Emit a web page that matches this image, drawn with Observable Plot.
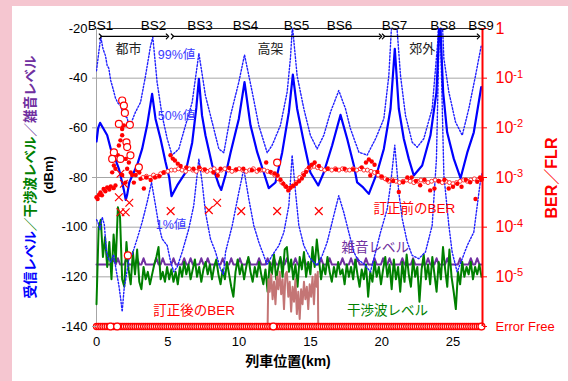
<!DOCTYPE html>
<html><head><meta charset="utf-8">
<script src="https://cdn.jsdelivr.net/npm/d3@7"></script>
<script src="https://cdn.jsdelivr.net/npm/@observablehq/plot@0.6"></script>
<style>
html,body{margin:0;padding:0;}
body{width:572px;height:381px;background:#f5c6d0;position:relative;overflow:hidden;}
#panel{position:absolute;left:12px;top:6px;width:556px;height:375px;background:#fff;}
#chart{position:absolute;left:0;top:0;width:572px;height:381px;}
</style></head><body><div id="panel"></div><div id="chart"></div>
<script>
// ---------------- DATA ----------------
const xMaxKm = 27.07;
const sampleStepKm = 0.15;               // measurement grid of the level traces
const xTicks = [0, 5, 10, 15, 20, 25];
const dbTicks = [-20, -40, -60, -80, -100, -120, -140];
const gridDb = [-40, -60, -80, -100, -120];
const berTicks = [1, 1e-1, 1e-2, 1e-3, 1e-4, 1e-5];
const berTickLabels = ["1", "10^-1", "10^-2", "10^-3", "10^-4", "10^-5"];
const errorFreeLabel = "Error Free";

const bsNames = ["BS1","BS2","BS3","BS4","BS5","BS6","BS7","BS8","BS9"];
const bsKm = [0.28, 4.0, 7.26, 10.45, 14.03, 17.04, 20.9, 24.3, 26.96];

const regionNames = ["都市", "高架", "郊外"];
const regionFromKm = [0.28, 5.33, 20.13];
const regionToKm = [4.98, 19.92, 26.79];
const regionLabelKm = [2.24, 12.2, 22.84];

// received level, 50% value (km, dBm)
const rx50 = [[0,-65.5],[0.12,-60],[0.25,-58],[0.5,-60.5],[0.75,-63],[1.0,-68.5],[1.22,-71],[1.57,-76.5],[1.8,-82],[1.92,-85],[2.05,-89],[2.15,-87],[2.3,-82],[2.45,-80],[2.85,-75],[3.2,-68.5],[3.55,-59],[3.9,-46.3],[4.14,-56.4],[4.49,-64.4],[4.84,-73.8],[5.1,-80],[5.26,-87.5],[5.66,-83.2],[6.24,-78],[6.71,-66],[7.0,-52],[7.18,-40.3],[7.4,-55],[7.64,-63],[8.11,-75],[8.58,-83],[8.75,-85],[9.05,-79],[9.4,-70],[9.98,-56.4],[10.38,-41.6],[10.8,-59],[11.27,-69.8],[11.73,-78],[12.08,-84.3],[12.55,-82],[13.02,-70],[13.49,-53.7],[13.77,-38.6],[14.07,-52.3],[14.54,-65.8],[15.0,-78],[15.55,-83.2],[15.94,-78],[16.53,-67],[17.11,-54.8],[17.58,-64.4],[18.05,-75.2],[18.28,-82],[18.7,-84],[19.1,-86.6],[19.68,-78],[20.15,-68.5],[20.62,-52.3],[20.92,-28.2],[21.2,-52.3],[21.55,-64.4],[21.9,-72.5],[22.25,-79.2],[22.84,-75.2],[23.42,-63],[23.84,-45.6],[24.0,-25],[24.08,-10],[24.16,-25],[24.31,-45.6],[24.59,-61.8],[25.06,-72.5],[25.53,-80.3],[26.0,-70],[26.46,-61.8],[26.98,-43.6]];
// received level, 99% value
const rx99 = [[0,-37],[0.15,-30],[0.3,-23.5],[0.45,-28],[0.63,-31],[0.75,-35],[0.86,-36],[1.0,-41],[1.1,-43],[1.33,-48],[1.5,-50],[1.68,-51],[1.9,-55],[2.15,-56],[2.3,-60],[2.5,-57],[2.73,-53.7],[3.09,-49.7],[3.44,-39],[3.79,-27],[3.95,-23.5],[4.25,-41.6],[4.6,-55],[4.96,-64.4],[5.3,-71],[5.77,-68.5],[6.24,-59],[6.71,-49.7],[7.18,-30],[7.64,-47],[8.11,-57.7],[8.58,-68.5],[8.93,-70],[9.4,-55],[9.98,-41.6],[10.38,-30.6],[10.92,-45.6],[11.38,-59],[11.97,-70],[12.32,-67],[12.9,-59],[13.37,-45.6],[13.6,-32],[13.74,-19],[14.07,-39],[14.54,-52.3],[15.0,-63],[15.47,-68.5],[15.94,-63],[16.41,-53.7],[16.99,-45],[17.46,-52.3],[17.81,-60.4],[18.4,-69.8],[18.98,-71],[19.57,-64.4],[20.15,-56.4],[20.5,-39],[20.74,-14],[21.0,-14],[21.32,-39],[21.67,-55],[22.14,-65.8],[22.49,-67.8],[22.95,-64.4],[23.54,-52.3],[23.93,-25.5],[24.05,-10],[24.2,-10],[24.36,-32],[24.71,-45.6],[25.18,-57.7],[25.65,-63],[26.11,-52.3],[26.58,-39],[26.98,-27]];
// received level, 1% value
const rx1 = [[0,-97],[0.1,-98],[0.25,-101],[0.4,-96],[0.55,-99],[0.7,-110],[0.86,-113],[1.0,-114],[1.2,-111],[1.4,-118],[1.57,-123.5],[1.7,-129],[1.8,-134],[1.95,-124],[2.05,-121],[2.27,-113],[2.5,-111],[2.85,-104.7],[3.2,-98],[3.55,-90],[3.86,-82],[4.14,-91.3],[4.37,-99.3],[4.6,-104.7],[4.96,-107.4],[5.2,-114],[5.42,-118],[5.66,-116],[6.01,-110],[6.47,-100.7],[6.82,-91.3],[7.18,-72.5],[7.41,-82],[7.64,-94],[7.99,-104.7],[8.35,-110],[8.7,-117],[8.9,-119],[9.05,-110],[9.52,-99.3],[9.98,-86],[10.33,-76.5],[10.68,-88.6],[11.03,-99.3],[11.38,-106],[11.73,-111.4],[11.95,-115],[12.32,-111.4],[12.79,-107.4],[13.14,-102],[13.49,-91.3],[13.72,-71],[13.96,-86],[14.19,-99.3],[14.54,-107.4],[15.0,-112.7],[15.47,-115.4],[15.83,-111.4],[16.18,-106],[16.64,-95.3],[16.99,-87.3],[17.34,-94],[17.69,-102],[18.05,-110],[18.28,-112.7],[18.86,-115.4],[19.21,-118],[19.57,-110],[19.92,-102],[20.39,-92.6],[20.62,-83],[20.92,-67],[21.2,-86],[21.44,-96.6],[21.79,-106],[22.14,-111.4],[22.6,-112.7],[23.07,-110],[23.54,-99.3],[23.84,-72.5],[24.0,-30],[24.08,-15],[24.2,-40],[24.36,-79],[24.71,-99.3],[24.94,-110],[25.29,-118],[25.65,-112.7],[26.0,-107.4],[26.46,-102],[26.91,-82],[27.05,-78]];

// interference level (dBm) on the sampling grid
const interferenceDb = [
 -131,-100,-97,-112,-104,-116,-106,-121,-103,-114,
 -92,-96,-121,-124,-106,-117,-123,-110,-119,-109,
 -122,-125,-116,-121,-118,-123,-119,-115,-112,-108,
 -121,-118,-122,-116,-121,-117,-122,-118,-123,-116,
 -120,-114,-119,-115,-121,-117,-113,-120,-116,-122,
 -117,-114,-119,-115,-121,-116,-113,-119,-123,-117,
 -121,-114,-119,-124,-128,-118,-113,-119,-115,-121,
 -116,-112,-118,-122,-116,-120,-114,-119,-123,-117,
 -126,-114,-119,-111,-121,-116,-112,-120,-109,-108,
 -118,-113,-121,-115,-124,-112,-117,-110,-120,-114,
 -119,-108,-116,-105,-113,-121,-115,-119,-112,-118,
 -122,-116,-120,-114,-119,-117,-123,-115,-120,-116,
 -121,-113,-119,-124,-117,-121,-115,-128,-118,-122,
 -114,-120,-116,-123,-117,-112,-120,-115,-125,-113,
 -121,-116,-126,-114,-122,-111,-119,-124,-113,-120,
 -116,-130,-117,-111,-121,-115,-123,-112,-119,-126,
 -114,-121,-108,-117,-124,-109,-120,-126,-133,-118,
 -123,-114,-120,-116,-119,-114,-121,-116,-119,-115,
 -120];

// noise level (dBm) on the sampling grid
const noiseDb = [
 -115,-115,-115,-115,-115,-115,-115,-115,-112.5,-115,
 -112.5,-115,-115,-115,-112.5,-115,-115,-115,-115,-112.5,
 -115,-115,-112.5,-115,-115,-115,-115,-115,-112.5,-115,
 -115,-112.5,-115,-115,-115,-115,-112.5,-115,-115,-115,
 -115,-112.5,-115,-115,-112.5,-115,-115,-115,-115,-112.5,
 -115,-115,-112.5,-115,-115,-115,-115,-115,-115,-112.5,
 -115,-115,-115,-112.5,-115,-115,-115,-112.5,-115,-115,
 -115,-112.5,-115,-115,-115,-115,-112.5,-115,-115,-115,
 -112.5,-115,-115,-112.5,-115,-115,-112.5,-115,-115,-112.5,
 -115,-115,-115,-112.5,-115,-115,-115,-112.5,-115,-115,
 -115,-112.5,-115,-115,-115,-112.5,-115,-115,-115,-112.5,
 -115,-115,-115,-115,-115,-112.5,-115,-115,-115,-112.5,
 -115,-115,-112.5,-115,-115,-115,-112.5,-115,-115,-115,
 -112.5,-115,-115,-115,-112.5,-115,-115,-112.5,-115,-115,
 -115,-115,-115,-112.5,-115,-115,-115,-115,-112.5,-115,
 -115,-115,-115,-115,-115,-112.5,-115,-115,-115,-112.5,
 -115,-115,-115,-115,-112.5,-115,-115,-115,-115,-115,
 -112.5,-115,-115,-115,-115,-112.5,-115,-115,-112.5,-115,
 -115];

// post-FEC trace between 12 and 15.6 km (dBm-equivalent)
const postFecTrace = [[12.0,-140],[12.05,-121],[12.15,-126],[12.25,-119],[12.35,-129],[12.45,-122],[12.55,-131],[12.65,-120],[12.75,-125],[12.85,-118],[12.95,-127],[13.05,-121],[13.15,-133],[13.25,-119],[13.35,-118],[13.45,-128],[13.55,-122],[13.65,-134],[13.75,-124],[13.85,-130],[13.95,-121],[14.05,-135],[14.15,-126],[14.25,-137],[14.35,-125],[14.45,-131],[14.55,-122],[14.65,-129],[14.75,-124],[14.85,-133],[14.95,-123],[15.05,-128],[15.15,-120],[15.25,-131],[15.35,-119],[15.45,-124],[15.52,-118],[15.55,-140]];

// pre-FEC BER, dense small markers (km, BER)
const berBand = [[3.25,1.0e-3],[3.5,1.06e-3],[3.75,1.0e-3],[4.0,1.12e-3],[4.25,1.06e-3],[4.5,1.19e-3],[4.75,1.26e-3],[5.0,1.33e-3],[5.25,1.41e-3],[5.5,1.41e-3],[5.75,1.5e-3],[6.0,1.41e-3],[6.25,1.33e-3],[6.5,1.5e-3],[6.75,1.41e-3],[7.0,1.33e-3],[7.25,1.5e-3],[7.5,1.41e-3],[7.75,1.33e-3],[8.0,1.41e-3],[8.25,1.5e-3],[8.5,1.33e-3],[8.75,1.41e-3],[9.0,1.5e-3],[9.25,1.41e-3],[9.5,1.33e-3],[9.75,1.41e-3],[10.0,1.5e-3],[10.25,1.41e-3],[10.5,1.33e-3],[10.75,1.41e-3],[11.0,1.5e-3],[11.25,1.33e-3],[11.5,1.41e-3],[11.75,1.41e-3],[12.0,1.33e-3],[12.25,1.26e-3],[12.5,1.12e-3],[12.75,9.4e-4],[13.0,7.9e-4],[13.25,6.7e-4],[13.5,6.0e-4],[13.75,6.7e-4],[14.0,7.9e-4],[14.25,1.0e-3],[14.5,1.19e-3],[14.75,1.41e-3],[15.0,1.58e-3],[15.25,1.68e-3],[15.5,1.58e-3],[15.75,1.5e-3],[16.0,1.41e-3],[16.25,1.5e-3],[16.5,1.41e-3],[16.75,1.5e-3],[17.0,1.41e-3],[17.25,1.5e-3],[17.5,1.41e-3],[17.75,1.41e-3],[18.0,1.5e-3],[18.25,1.41e-3],[18.5,1.5e-3],[18.75,1.41e-3],[19.0,1.41e-3],[19.25,1.33e-3],[19.5,1.26e-3],[19.75,1.12e-3],[20.0,1.0e-3],[20.25,9.4e-4],[20.5,8.4e-4],[20.75,8.9e-4],[21.0,8.4e-4],[21.25,7.9e-4],[21.5,8.4e-4],[21.75,8.9e-4],[22.0,8.4e-4],[22.25,7.9e-4],[22.5,8.4e-4],[22.75,8.9e-4],[23.0,8.4e-4],[23.25,7.9e-4],[23.5,8.4e-4],[23.75,8.9e-4],[24.0,8.4e-4],[24.25,7.9e-4],[24.5,8.4e-4],[24.75,7.9e-4],[25.0,7.5e-4],[25.25,7.9e-4],[25.5,8.4e-4],[25.75,8.9e-4],[26.0,8.4e-4],[26.25,8.9e-4],[26.5,9.4e-4],[26.75,8.9e-4],[27.0,9.4e-4]];
// pre-FEC BER, filled markers
const berFilled = [[0.0,4.0e-4],[0.08,3.7e-4],[0.18,4.5e-4],[0.28,5.0e-4],[0.38,4.4e-4],[0.5,5.9e-4],[0.62,5.3e-4],[0.75,6.3e-4],[0.9,5.7e-4],[1.0,6.6e-4],[1.2,6.1e-4],[1.33,6.9e-4],[1.1,1.27e-3],[1.22,1.74e-3],[1.33,1.5e-3],[1.5,2.8e-3],[1.57,4.4e-3],[1.68,5.6e-3],[1.8,9.5e-3],[1.92,1.12e-2],[1.8,7.1e-3],[2.0,5.0e-3],[2.15,4.2e-3],[2.05,2.37e-3],[2.27,2.0e-3],[2.15,1.5e-3],[1.8,1.12e-3],[2.03,7.9e-4],[2.4,1.26e-3],[2.5,1.12e-3],[2.62,7.9e-4],[2.75,1.12e-3],[2.85,1.4e-3],[3.0,1.26e-3],[3.09,9.4e-4],[3.32,6.0e-4],[3.5,1.0e-3],[3.8,8.9e-4],[4.1,1.0e-3],[4.4,1.06e-3],[4.7,1.26e-3],[5.19,2.8e-3],[5.35,2.4e-3],[5.5,2.2e-3],[5.7,1.9e-3],[5.9,1.7e-3],[6.3,1.6e-3],[6.8,1.5e-3],[7.2,1.6e-3],[7.6,1.45e-3],[8.2,1.26e-3],[8.5,1.1e-3],[8.7,1.5e-3],[9.3,1.55e-3],[9.8,1.45e-3],[10.3,1.5e-3],[10.9,1.4e-3],[11.4,1.45e-3],[11.9,2.0e-3],[12.2,1.3e-3],[12.5,1.2e-3],[12.7,1.1e-3],[12.9,9.0e-4],[13.1,7.5e-4],[13.3,6.5e-4],[13.45,5.5e-4],[13.6,6.2e-4],[13.8,6.8e-4],[14.0,7.5e-4],[14.2,8.4e-4],[14.4,9.5e-4],[14.55,1.12e-3],[14.7,1.3e-3],[14.9,1.6e-3],[15.1,1.8e-3],[15.3,2.0e-3],[15.6,1.7e-3],[16.2,1.5e-3],[16.8,1.45e-3],[17.4,1.5e-3],[18.0,1.45e-3],[18.6,1.6e-3],[18.9,2.0e-3],[19.1,2.3e-3],[19.3,2.1e-3],[19.5,1.8e-3],[19.2,1.1e-3],[19.7,1.3e-3],[20.0,1.05e-3],[20.4,9.0e-4],[20.8,8.5e-4],[21.2,5.1e-4],[21.5,8.0e-4],[21.8,1.0e-3],[22.1,1.0e-3],[22.4,8.5e-4],[22.7,7.0e-4],[23.0,9.0e-4],[23.4,5.5e-4],[23.7,6.0e-4],[24.0,8.5e-4],[24.4,9.0e-4],[24.7,6.0e-4],[25.0,6.5e-4],[25.3,7.5e-4],[25.6,6.5e-4],[25.9,9.0e-4],[26.2,8.0e-4],[26.58,3.7e-4],[26.7,8.2e-4],[26.9,1.0e-3],[27.0,9.0e-4]];
// pre-FEC BER, open markers
const berOpen = [[1.8,3.55e-2],[1.92,2.8e-2],[1.99,2.0e-2],[1.57,1.2e-2],[2.34,1.15e-2],[2.1,5.1e-3],[2.15,4.1e-3],[1.22,3.2e-3],[1.1,2.37e-3],[1.68,2.37e-3],[2.38,2.8e-3],[2.97,1.6e-3],[2.2,2.7e-5],[12.67,2.0e-3]];
// cross markers
const berCross = [[1.68,1.19e-3],[1.92,7.5e-4],[1.57,4.0e-4],[2.3,3.1e-4],[1.68,2.0e-4],[2.05,2.0e-4],[5.2,2.1e-4],[7.88,2.2e-4],[8.46,3.1e-4],[10.15,2.1e-4],[12.67,2.1e-4],[15.59,2.1e-4]];
// positions where the open markers sit at "Error Free"
const errorFreeOpenKm = [0.98, 1.45, 12.4, 27.0];

const leftTitleParts = ["受信レベル", "／干渉波レベル", "／雑音レベル"];
const leftTitleUnit = "(dBm)";
const rightTitle = "BER／FLR";
const xTitle = "列車位置(km)";

const blueNotes = [{t:"99%値", km:4.3, db:-30.5},{t:"50%値", km:4.3, db:-55.4},{t:"1%値", km:4.15, db:-99.3}];
const seriesNotes = [
  {t:"訂正前のBER", km:22.3, db:-92.4, c:"red"},
  {t:"雑音レベル", km:19.55, db:-108.2, c:"purple"},
  {t:"訂正後のBER", km:6.84, db:-133.6, c:"red"},
  {t:"干渉波レベル", km:20.4, db:-133.6, c:"green"}
];

// ---------------- BUILD ----------------
const ERROR_FREE_DB = -140;
const berToDb = b => -20 + 20 * Math.log10(b);
const pairs = arr => arr.map(([x, y]) => ({x, y}));
const berPairs = arr => arr.map(([x, b]) => ({x, y: berToDb(b)}));
const gridRows = vals => vals.map((y, i) => ({x: i * sampleStepKm, y}));
const sampleKm = interferenceDb.map((_, i) => i * sampleStepKm);

const rightTickDb = berTicks.map(berToDb).concat([ERROR_FREE_DB]);
const rightLabelFor = d => {
  if (Math.abs(d - ERROR_FREE_DB) < 1e-6) return errorFreeLabel;
  const i = rightTickDb.findIndex(v => Math.abs(v - d) < 1e-6);
  return berTickLabels[i];
};

const C = {blue:"#0000ff", dot:"#2020ff", purple:"#7030a0", green:"#008000", red:"#ff0000", brown:"#c47575", grid:"#a6a6a6", note:"#3a3aff"};
const noteColor = {red:C.red, purple:C.purple, green:C.green};
const FONT = "'Liberation Sans','Noto Sans CJK JP',Arial,sans-serif";

const svg = Plot.plot({
  width: 572, height: 381,
  marginLeft: 96, marginRight: 90, marginTop: 28, marginBottom: 55,
  x: {domain: [0, xMaxKm]},
  y: {domain: [-140, -20]},
  style: {fontFamily: FONT, fontSize: "13px", background: "none", overflow: "visible", color: "#000"},
  marks: [
    Plot.ruleY(gridDb, {stroke: C.grid}),
    Plot.ruleY([-140], {stroke: C.grid}),
    Plot.ruleY([-20], {stroke: "#303030"}),
    Plot.ruleX([0], {stroke: C.grid}),
    Plot.line(gridRows(noiseDb), {x:"x", y:"y", stroke: C.purple, strokeWidth: 2}),
    Plot.line(gridRows(interferenceDb), {x:"x", y:"y", stroke: C.green, strokeWidth: 2}),
    Plot.line(pairs(postFecTrace), {x:"x", y:"y", stroke: C.brown, strokeWidth: 2}),
    Plot.line(pairs(rx1), {x:"x", y:"y", stroke: C.dot, strokeWidth: 1.4, strokeDasharray: "1.6,1.8", clip: true}),
    Plot.line(pairs(rx99), {x:"x", y:"y", stroke: C.dot, strokeWidth: 1.4, strokeDasharray: "1.6,1.8", clip: true}),
    Plot.line(pairs(rx50), {x:"x", y:"y", stroke: C.blue, strokeWidth: 2.2, clip: true}),
    Plot.dot(berPairs(berBand), {x:"x", y:"y", r: 2, stroke: "#ff3030", fill: "white", strokeWidth: 1}),
    Plot.dot(berPairs(berFilled), {x:"x", y:"y", r: 2.2, fill: C.red}),
    Plot.dot(berPairs(berOpen), {x:"x", y:"y", r: 3.5, stroke: C.red, fill: "white", strokeWidth: 1.2}),
    Plot.dot(berPairs(berCross), {x:"x", y:"y", symbol: "times", r: 3.6, stroke: C.red, strokeWidth: 1.2}),
    Plot.dot(sampleKm, {x: d => d, y: () => ERROR_FREE_DB, r: 3, stroke: C.red, fill: "white", strokeWidth: 1.3}),
    Plot.dot(errorFreeOpenKm, {x: d => d, y: () => ERROR_FREE_DB, r: 3.4, stroke: C.red, fill: "white", strokeWidth: 1.2}),
    Plot.ruleX([xMaxKm], {stroke: C.red, strokeWidth: 2}),
    Plot.axisX({ticks: xTicks, tickSize: 0, tickPadding: 10, fontSize: 13, label: null, tickFormat: d => String(d)}),
    Plot.axisY({anchor: "left", ticks: dbTicks, tickSize: 4, tickPadding: 5, fontSize: 13, label: null, tickFormat: d => String(d), stroke: C.grid, fill: "#000"}),
    Plot.axisY({anchor: "right", ticks: rightTickDb, tickSize: 4, tickPadding: 9, fontSize: 16, label: null, tickFormat: rightLabelFor, color: C.red}),
    Plot.text(bsNames, {x: (d, i) => bsKm[i], text: d => d, frameAnchor: "top", dy: -8, fontSize: 13.5, fill: "#000"}),
    Plot.link(regionNames, {x1: (d, i) => regionFromKm[i], x2: (d, i) => regionToKm[i], y1: () => -23.2, y2: () => -23.2, stroke: "#000", strokeWidth: 1.2, markerStart: "arrow", markerEnd: "arrow"}),
    Plot.text(regionNames, {x: (d, i) => regionLabelKm[i], y: () => -28.3, text: d => d, fontSize: 13, fill: "#222"}),
    Plot.text(blueNotes, {x: "km", y: "db", text: "t", textAnchor: "start", fontSize: 12.5, fill: C.note}),
    Plot.text(seriesNotes, {x: "km", y: "db", text: "t", fontSize: 13.5, fill: d => noteColor[d.c]})
  ]
});
document.getElementById("chart").appendChild(svg);

const root = d3.select(svg);
root.selectAll("text").each(function () {
  const s = this.textContent;
  const m = /^10\^(-\d)$/.exec(s);
  if (m) {
    const el = d3.select(this);
    el.text(null);
    el.append("tspan").text("10");
    el.append("tspan").attr("dy", "-0.5em").attr("font-size", "11px").text(m[1]);
  } else if (s === errorFreeLabel) {
    d3.select(this).attr("font-size", "13px");
  }
});

const lt = root.append("text")
  .attr("transform", "translate(30,177) rotate(-90)")
  .attr("text-anchor", "middle").attr("dominant-baseline", "central")
  .attr("font-weight", "bold").attr("font-size", "13.5px").attr("font-family", FONT);
const leftColors = [C.blue, C.green, C.purple];
leftTitleParts.forEach((p, i) => lt.append("tspan").attr("fill", leftColors[i]).text(p));

root.append("text")
  .attr("transform", "translate(48,175) rotate(-90)")
  .attr("text-anchor", "middle").attr("dominant-baseline", "central")
  .attr("font-weight", "bold").attr("font-size", "13px").attr("font-family", FONT)
  .attr("fill", "#000").text(leftTitleUnit);

root.append("text")
  .attr("transform", "translate(551,178) rotate(-90)")
  .attr("text-anchor", "middle").attr("dominant-baseline", "central")
  .attr("font-weight", "bold").attr("font-size", "16px").attr("font-family", FONT)
  .attr("fill", C.red).text(rightTitle);

root.append("text")
  .attr("x", 288).attr("y", 361)
  .attr("text-anchor", "middle").attr("dominant-baseline", "central")
  .attr("font-weight", "bold").attr("font-size", "14px").attr("font-family", FONT)
  .attr("fill", "#000").text(xTitle);
</script></body></html>
